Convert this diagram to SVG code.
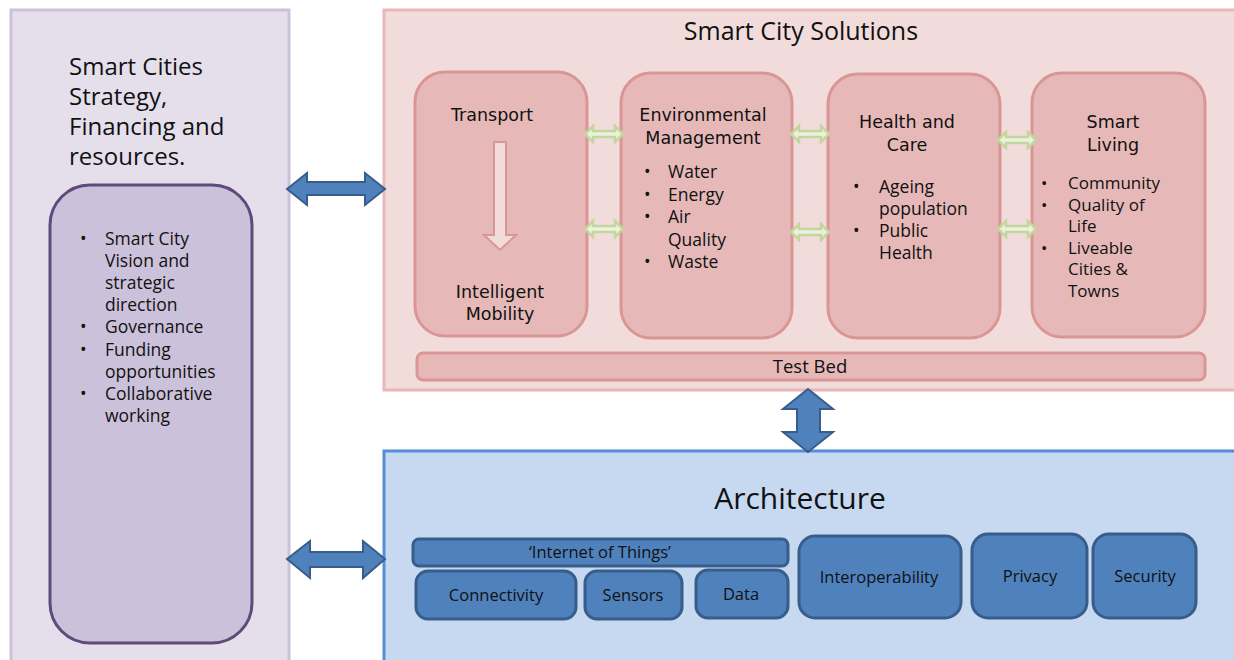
<svg xmlns="http://www.w3.org/2000/svg" width="1234" height="660" viewBox="0 0 1234 660">
<defs>
<style>
text{font-family:"Open Sans","Liberation Sans",sans-serif;fill:#111}
.c{text-anchor:middle}
.t16{font-family:"DejaVu Sans","Liberation Sans",sans-serif;font-size:17.5px}
.t14{font-size:16.5px}
.pink{fill:#e6b9b8;stroke:#d99694;stroke-width:3}
.blue{fill:#4f81bd;stroke:#385d8a;stroke-width:3}
.big{fill:#4f81bd;stroke:#385d8a;stroke-width:2}
.green{fill:#ebf1de;stroke:#c3d69b;stroke-width:2.5}
</style>
<path id="ga" d="M-19,0 L-11,-8 L-11,-3 L11,-3 L11,-8 L19,0 L11,8 L11,3 L-11,3 L-11,8 Z"/>
</defs>
<rect width="1234" height="660" fill="#ffffff"/>

<g id="strategy">
<rect x="11" y="10" width="278" height="660" fill="#e5dfec" stroke="#ccc1da" stroke-width="3"/>
<g style="font-family:'DejaVu Sans','Liberation Sans',sans-serif;font-size:24px">
<text x="69" y="75">Smart Cities</text>
<text x="69" y="105">Strategy,</text>
<text x="69" y="135">Financing and</text>
<text x="69" y="165">resources.</text>
</g>
<rect x="50" y="185" width="202" height="458" rx="40" fill="#ccc1da" stroke="#604a7b" stroke-width="3"/>
<g class="t16">
<text x="80" y="245">•</text><text x="105" y="245">Smart City</text>
<text x="105" y="267">Vision and</text>
<text x="105" y="289">strategic</text>
<text x="105" y="311">direction</text>
<text x="80" y="333">•</text><text x="105" y="333">Governance</text>
<text x="80" y="356">•</text><text x="105" y="356">Funding</text>
<text x="105" y="378">opportunities</text>
<text x="80" y="400">•</text><text x="105" y="400">Collaborative</text>
<text x="105" y="422">working</text>
</g>
</g>

<g id="solutions">
<rect x="384" y="10" width="860" height="380" fill="#f2dcdb" stroke="#e6b9b8" stroke-width="3"/>
<text x="801" y="40" class="c" style="font-size:25px">Smart City Solutions</text>
</g>

<g id="transport">
<rect x="415" y="72" width="172" height="264" rx="30" class="pink"/>
<text x="492" y="121" class="c t16">Transport</text>
<path d="M494,142 H506 V235 H516 L500,250 L484,235 H494 Z" fill="#f2dcdb" stroke="#d99694" stroke-width="2"/>
<text x="500" y="298" class="c t16">Intelligent</text>
<text x="500" y="320" class="c t16">Mobility</text>
</g>

<g id="environment">
<rect x="621" y="73" width="171" height="265" rx="30" class="pink"/>
<text x="703" y="121" class="c t16">Environmental</text>
<text x="703" y="144" class="c t16">Management</text>
<g class="t16">
<text x="644" y="178">•</text><text x="668" y="178">Water</text>
<text x="644" y="201">•</text><text x="668" y="201">Energy</text>
<text x="644" y="223">•</text><text x="668" y="223">Air</text>
<text x="668" y="246">Quality</text>
<text x="644" y="268">•</text><text x="668" y="268">Waste</text>
</g>
</g>

<g id="health">
<rect x="828" y="74" width="172" height="264" rx="30" class="pink"/>
<text x="907" y="128" class="c t16">Health and</text>
<text x="907" y="151" class="c t16">Care</text>
<g class="t16">
<text x="853" y="193">•</text><text x="879" y="193">Ageing</text>
<text x="879" y="215">population</text>
<text x="853" y="237">•</text><text x="879" y="237">Public</text>
<text x="879" y="259">Health</text>
</g>
</g>

<g id="living">
<rect x="1032" y="73" width="173" height="264" rx="30" class="pink"/>
<text x="1113" y="128" class="c t16">Smart</text>
<text x="1113" y="151" class="c t16">Living</text>
<g class="t16" style="font-size:17px">
<text x="1041" y="189">•</text><text x="1068" y="189">Community</text>
<text x="1041" y="210.5">•</text><text x="1068" y="210.5">Quality of</text>
<text x="1068" y="232">Life</text>
<text x="1041" y="253.5">•</text><text x="1068" y="253.5">Liveable</text>
<text x="1068" y="275">Cities &amp;</text>
<text x="1068" y="296.5">Towns</text>
</g>
</g>

<g id="testbed">
<rect x="417" y="353" width="788" height="27" rx="6" class="pink"/>
<text x="810" y="373" class="c" style="font-size:18.5px">Test Bed</text>
</g>

<g id="architecture">
<rect x="384" y="451" width="860" height="220" fill="#c6d9f1" stroke="#558ed5" stroke-width="3"/>
<text x="800" y="509" class="c" style="font-size:30px">Architecture</text>
</g>

<g id="iot">
<rect x="413" y="539" width="375" height="27" rx="6" class="blue"/>
<text x="600" y="558" class="c t14">‘Internet of Things’</text>
</g>
<g id="connectivity">
<rect x="416" y="571" width="160" height="48" rx="12" class="blue"/>
<text x="496" y="601" class="c t14">Connectivity</text>
</g>
<g id="sensors">
<rect x="585" y="571" width="97" height="48" rx="12" class="blue"/>
<text x="633" y="601" class="c t14">Sensors</text>
</g>
<g id="data">
<rect x="696" y="570" width="92" height="48" rx="12" class="blue"/>
<text x="741" y="600" class="c t14">Data</text>
</g>
<g id="interoperability">
<rect x="799" y="536" width="162" height="82" rx="16" class="blue"/>
<text x="879" y="583" class="c t14">Interoperability</text>
</g>
<g id="privacy">
<rect x="972" y="534" width="115" height="84" rx="16" class="blue"/>
<text x="1030" y="582" class="c t14">Privacy</text>
</g>
<g id="security">
<rect x="1093" y="534" width="103" height="84" rx="16" class="blue"/>
<text x="1145" y="582" class="c t14">Security</text>
</g>

<g id="connectors">
<path class="big" d="M287,189 L307,173 L307,182 L365,182 L365,173 L385,189 L365,205 L365,195 L307,195 L307,205 Z"/>
<path class="big" d="M287,559 L310,541 L310,552 L363,552 L363,541 L385,559 L363,578 L363,567 L310,567 L310,578 Z"/>
<path class="big" d="M808,389 L833,409 L820,409 L820,432 L833,432 L808,452 L783,432 L797,432 L797,409 L783,409 Z"/>
<use href="#ga" x="604" y="134" class="green"/>
<use href="#ga" x="604" y="229" class="green"/>
<use href="#ga" x="810" y="134" class="green"/>
<use href="#ga" x="810" y="232" class="green"/>
<use href="#ga" x="1017" y="140" class="green"/>
<use href="#ga" x="1017" y="229" class="green"/>
</g>
</svg>
